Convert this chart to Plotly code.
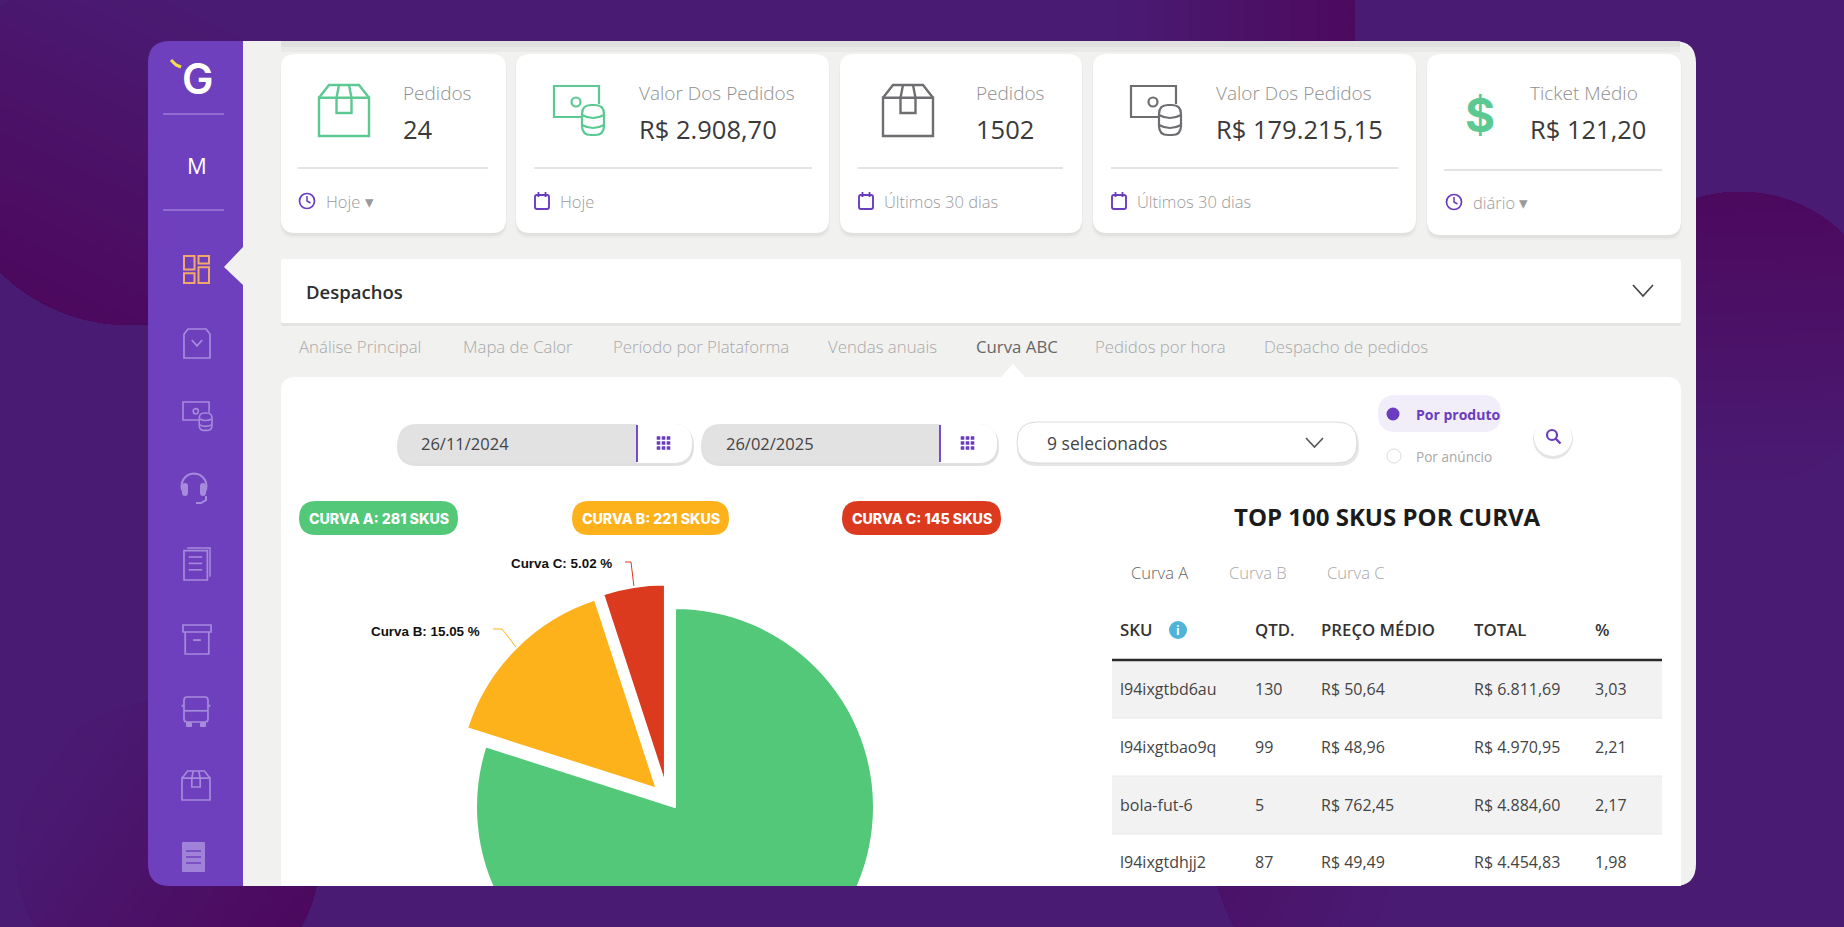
import math
import plotly.graph_objects as go

# cards
card_titles = ['Pedidos', 'Valor Dos Pedidos', 'Pedidos', 'Valor Dos Pedidos', 'Ticket Médio']
card_values = ['24', 'R$ 2.908,70', '1502', 'R$ 179.215,15', 'R$ 121,20']
card_footers = ['Hoje ▾', 'Hoje', 'Últimos 30 dias', 'Últimos 30 dias', 'diário ▾']

tab_names = ['Análise Principal', 'Mapa de Calor', 'Período por Plataforma', 'Vendas anuais',
             'Curva ABC', 'Pedidos por hora', 'Despacho de pedidos']

# pie
curve_labels = ['Curva A', 'Curva B', 'Curva C']
curve_share = [79.93, 15.05, 5.02]
curve_skus = [281, 221, 145]
curve_colors = ['#52c878', '#fdb11b', '#dc3a1e']

# table
table_headers = ['SKU', 'QTD.', 'PREÇO MÉDIO', 'TOTAL', '%']
col_sku = ['l94ixgtbd6au', 'l94ixgtbao9q', 'bola-fut-6', 'l94ixgtdhjj2']
col_qty = ['130', '99', '5', '87']
col_price = ['R$ 50,64', 'R$ 48,96', 'R$ 762,45', 'R$ 49,49']
col_total = ['R$ 6.811,69', 'R$ 4.970,95', 'R$ 4.884,60', 'R$ 4.454,83']
col_pct = ['3,03', '2,21', '2,17', '1,98']

W, H = 1844, 1040
BASE = (74, 27, 115)
BLOB = (76, 9, 94)
BASE_HEX = '#4a1b73'
SIDE = '#6f40bd'
PANEL = '#f1f1ef'
PURPLE = '#6a3cc0'
GREEN_ICON = '#5cc992'
GRAY_ICON = '#6e6e72'
FONT = 'Open Sans'

shapes = []
notes = []


def rrect(x0, y0, x1, y1, r, fill, line=None, lw=1, tl=True, tr=True, br=True, bl=True, layer='below', opacity=1):
    rtl, rtr, rbr, rbl = [r if on else 0 for on in (tl, tr, br, bl)]
    p = f'M{x0 + rtl},{y0} L{x1 - rtr},{y0} Q{x1},{y0} {x1},{y0 + rtr} L{x1},{y1 - rbr} Q{x1},{y1} {x1 - rbr},{y1} '
    p += f'L{x0 + rbl},{y1} Q{x0},{y1} {x0},{y1 - rbl} L{x0},{y0 + rtl} Q{x0},{y0} {x0 + rtl},{y0} Z'
    shapes.append(dict(type='path', path=p, fillcolor=fill, opacity=opacity, layer=layer,
                       line=dict(color=line or fill, width=lw if line else 0)))


def circle(cx, cy, r, fill='rgba(0,0,0,0)', line=None, lw=1, layer='below', opacity=1):
    shapes.append(dict(type='circle', x0=cx - r, x1=cx + r, y0=cy - r, y1=cy + r, fillcolor=fill, layer=layer,
                       opacity=opacity, line=dict(color=line or fill, width=lw if line else 0)))


def poly(points, x, y, w, h, color, lw=2, close=False, fill=None):
    p = 'M' + ' L'.join(f'{x + px * w:.1f},{y + py * h:.1f}' for px, py in points)
    if close:
        p += ' Z'
    shapes.append(dict(type='path', path=p, layer='below', fillcolor=fill or 'rgba(0,0,0,0)',
                       line=dict(color=color, width=lw)))


def text(x, y, s, size=14, color='#333', weight=400, anchor='left', family=FONT):
    if anchor == 'left':
        x -= 2
    notes.append(dict(x=x, y=y, text=s, showarrow=False, xanchor=anchor, yanchor='middle', xref='x', yref='y',
                      font=dict(family=family, size=size, color=color, weight=weight)))


def blob(cx, cy, r, angle, start, strength=1.0, steps=26):
    # circle with a linear fade: dark towards angle, nothing before start (-1..1 across the circle)
    a = math.radians(angle)
    for k in range(steps):
        t = k / steps
        s = start + (1 - start) * t
        half = math.acos(max(-1, min(1, s)))
        mix = strength * (k + 1) / steps
        col = tuple(round(b + (d - b) * mix) for b, d in zip(BASE, BLOB))
        pts = []
        for j in range(41):
            ang = a - half + 2 * half * j / 40
            pts.append(f'{cx + r * math.cos(ang):.1f},{cy + r * math.sin(ang):.1f}')
        shapes.append(dict(type='path', path='M' + ' L'.join(pts) + ' Z', layer='below',
                           fillcolor=f'rgb{col}', line=dict(width=0)))


def shadow_card(x0, y0, x1, y1, r=14):
    rrect(x0 - 1, y0 + 2, x1 + 1, y1 + 5, r, '#000000', opacity=0.025)
    rrect(x0, y0 + 2, x1, y1 + 3, r, '#000000', opacity=0.04)
    rrect(x0, y0, x1, y1, r, '#ffffff')


def box_icon(x, y, w, h, c, lw=2.4):
    poly([(0, .25), (1, .25), (1, 1), (0, 1)], x, y, w, h, c, lw, close=True)
    poly([(0, .25), (.2, 0), (.8, 0), (1, .25)], x, y, w, h, c, lw)
    poly([(.4, 0), (.35, .25), (.35, .55), (.65, .55), (.65, .25), (.6, 0)], x, y, w, h, c, lw)


def cash_icon(x, y, c, k=1.0, lw=2.2, bg='#ffffff'):
    poly([(.56, .62), (0, .62), (0, 0), (.9, 0), (.9, .36)], x, y, 50 * k, 50 * k, c, lw)
    circle(x + 22 * k, y + 16 * k, 4.5 * k, line=c, lw=lw)
    rrect(x + 28 * k, y + 19 * k, x + 50 * k, y + 49 * k, 9 * k, bg, line=c, lw=lw)
    for dy in (29, 39):
        shapes.append(dict(type='path', layer='below', fillcolor='rgba(0,0,0,0)', line=dict(color=c, width=lw),
                           path=f'M{x + 28 * k},{y + dy * k} Q{x + 39 * k},{y + (dy + 6) * k} {x + 50 * k},{y + dy * k}'))


def clock_icon(cx, cy):
    circle(cx, cy, 7.5, line=PURPLE, lw=1.7)
    poly([(0, 0), (0, 1), (.7, 1.4)], cx, cy - 5, 5, 5, PURPLE, 1.5)


def calendar_icon(cx, cy):
    rrect(cx - 7, cy - 6, cx + 7, cy + 8, 2, '#ffffff', line=PURPLE, lw=1.9)
    poly([(0, 0), (0, 1)], cx - 3.5, cy - 9, 1, 5, PURPLE, 1.8)
    poly([(0, 0), (0, 1)], cx + 3.5, cy - 9, 1, 5, PURPLE, 1.8)


def grid_icon(cx, cy):
    for i in (-1, 0, 1):
        for j in (-1, 0, 1):
            rrect(cx + i * 5 - 1.8, cy + j * 5 - 1.8, cx + i * 5 + 1.8, cy + j * 5 + 1.8, 0.3, PURPLE)


# background blobs
blob(130, 140, 185, 115, -0.75)
blob(1130, 20, 225, 0, -0.05, 0.95)
blob(1740, 339, 147, -92, -0.95)
blob(168, 853, 152, 35, -0.95)
blob(1435, 820, 227, 200, 0.05, 0.65)

# panel
rrect(243, 41, 1696, 886, 22, PANEL, tl=False, bl=False)
rrect(281, 41, 1680, 47, 0, '#d6d6d4', opacity=0.6)
rrect(281, 47, 1680, 52, 0, '#e4e4e2', opacity=0.6)
rrect(148, 41, 243, 886, 22, SIDE, tr=False, br=False)

# sidebar
text(197, 78, 'G', 42, '#ffffff', 600, 'center', 'Inter')
poly([(0, 0), (.5, .7), (1, 1)], 171, 60, 10, 7, '#f5e04a', 3)
for yy in (114, 210):
    poly([(0, 0), (1, 0)], 163, yy, 61, 1, '#9c7ad6', 1.4)
text(197, 165, 'M', 22, '#ffffff', 500, 'center')
shapes.append(dict(type='path', path='M243,247 L224,267 L243,285 Z', fillcolor=PANEL, layer='below', line=dict(width=0)))
SI = '#a68adb'
poly([(0, 0), (.42, 0), (.42, .5), (0, .5)], 184, 256, 25, 27, '#f3a86a', 2, close=True)
poly([(.58, 0), (1, 0), (1, .28), (.58, .28)], 184, 256, 25, 27, '#f3a86a', 2, close=True)
poly([(0, .64), (.42, .64), (.42, 1), (0, 1)], 184, 256, 25, 27, '#f3a86a', 2, close=True)
poly([(.58, .42), (1, .42), (1, 1), (.58, 1)], 184, 256, 25, 27, '#f3a86a', 2, close=True)
# bag
poly([(0, .18), (.15, 0), (.85, 0), (1, .18), (1, 1), (0, 1)], 184, 329, 26, 29, SI, 1.7, close=True)
poly([(.3, .38), (.5, .58), (.7, .38)], 184, 329, 26, 29, SI, 1.8)
# cash
cash_icon(183, 402, SI, 0.58, 1.6, SIDE)
# headset
arc = [(math.cos(math.radians(d)), math.sin(math.radians(d))) for d in range(150, 395, 15)]
poly(arc, 194, 486, 12.5, 12.5, SI, 2)
rrect(182, 483, 188, 496, 3, SI)
rrect(200, 483, 206, 496, 3, SI)
poly([(1, 0), (1, .6), (.5, 1), (0, 1)], 196, 496, 10, 7, SI, 2)
# document
poly([(0, .08), (.9, .08), (.9, 1), (0, 1)], 184, 548, 26, 32, SI, 1.7, close=True)
poly([(.12, 0), (1, 0), (1, .9)], 184, 548, 26, 32, SI, 1.5)
for yy in (.28, .48, .68):
    poly([(.18, yy), (.7, yy)], 184, 548, 26, 32, SI, 1.6)
# archive
poly([(0, 0), (1, 0), (1, .24), (0, .24)], 183, 625, 28, 29, SI, 1.7, close=True)
poly([(.08, .24), (.08, 1), (.92, 1), (.92, .24)], 183, 625, 28, 29, SI, 1.7)
poly([(.36, .52), (.64, .52)], 183, 625, 28, 29, SI, 2)
# bus
rrect(184, 697, 208, 722, 3, 'rgba(0,0,0,0)', line=SI, lw=1.7)
poly([(0, .55), (1, .55)], 184, 697, 24, 25, SI, 1.7)
poly([(0, .35), (-.1, .35)], 184, 697, 24, 25, SI, 2)
poly([(1, .35), (1.1, .35)], 184, 697, 24, 25, SI, 2)
rrect(186, 722, 192, 727, 1, SI)
rrect(200, 722, 206, 727, 1, SI)
# box
box_icon(182, 771, 28, 29, SI, 1.7)
# receipt
rrect(182, 842, 205, 872, 1, SI, opacity=0.9)
for yy in (851, 857, 863):
    poly([(0, 0), (1, 0)], 186, yy, 15, 1, SIDE, 1.5)

# kpi cards
card_x = [(281, 506), (516, 829), (840, 1082), (1093, 1416), (1427, 1681)]
title_x = [403, 639, 976, 1216, 1530]
rule_x = [(298, 488), (534, 812), (858, 1063), (1111, 1398), (1444, 1662)]
foot_x = [326, 560, 884, 1137, 1473]
for i in range(5):
    x0, x1 = card_x[i]
    shadow_card(x0, 54, x1, 235 if i == 4 else 233)
    text(title_x[i], 93, card_titles[i], 19, '#8f8f8f', 300)
    text(title_x[i], 129, card_values[i], 25.5, '#3a3a3a', 400)
    ry = 170 if i == 4 else 168
    poly([(0, 0), (1, 0)], rule_x[i][0], ry, rule_x[i][1] - rule_x[i][0], 1, '#c9c9c9', 1)
    fy = 202 if i == 4 else 201
    text(foot_x[i], fy, card_footers[i], 16.5, '#9a9a9a', 300)
    if i in (0, 4):
        clock_icon(foot_x[i] - 19, fy)
    else:
        calendar_icon(foot_x[i] - 18, fy)
box_icon(319, 85, 50, 51, GREEN_ICON)
cash_icon(554, 86, GREEN_ICON)
box_icon(883, 85, 50, 51, GRAY_ICON)
cash_icon(1131, 86, GRAY_ICON)
text(1480, 115, '$', 46, GREEN_ICON, 700, 'center', 'Inter')

# despachos bar
rrect(281, 262, 1681, 326, 2, '#000000', opacity=0.05)
rrect(281, 259, 1681, 323, 2, '#ffffff')
text(306, 291, 'Despachos', 18.5, '#2d2d2d', 600)
poly([(0, 0), (.5, 1), (1, 0)], 1633, 285, 20, 11, '#444444', 1.7)

# tabs
tab_x = [299, 463, 613, 828, 976, 1095, 1264]
for x, name in zip(tab_x, tab_names):
    text(x, 346, name, 16.8, '#666666' if name == 'Curva ABC' else '#a8a8a8', 300 if name != 'Curva ABC' else 400)

# main card
rrect(281, 377, 1681, 886, 14, '#ffffff', br=False, bl=False)
shapes.append(dict(type='path', path='M1001,377 L1013,364 L1025,377 Z', fillcolor='#ffffff', layer='below', line=dict(width=0)))

# filter row
for x0, x1, div, label, tx in [(398, 692, 637, '26/11/2024', 421), (702, 997, 940, '26/02/2025', 726)]:
    rrect(x0 - 1, 426, x1 + 2, 466, 20, '#000000', opacity=0.12)
    rrect(x0, 424, x1, 463, 19, '#e2e2e2')
    rrect(div, 424, x1, 463, 19, '#ffffff', tl=False, bl=False)
    poly([(0, 0), (0, 1)], div, 425, 1, 37, PURPLE, 1.8)
    grid_icon((div + x1) / 2 - 1, 443)
    text(tx, 443, label, 16.5, '#444444')
rrect(1017, 425, 1359, 466, 20, '#000000', opacity=0.1)
rrect(1017, 422, 1357, 463, 20, '#ffffff', line='#d9d9d9', lw=1)
text(1047, 443, '9 selecionados', 17.5, '#444444', 400)
poly([(0, 0), (.5, 1), (1, 0)], 1306, 438, 17, 9, '#555555', 1.6)
rrect(1378, 395, 1501, 432, 18, '#f1eef9')
circle(1393, 414, 6.5, PURPLE)
text(1416, 414, 'Por produto', 14, PURPLE, 700)
circle(1394, 456, 7, '#ffffff', line='#dcdcdc', lw=1)
text(1416, 456, 'Por anúncio', 13.6, '#a8a8a8', 400)
circle(1553, 439, 20, '#000000', opacity=0.1)
circle(1553, 437, 19, '#ffffff')
circle(1552, 435, 5, line=PURPLE, lw=2.2)
poly([(0, 0), (1, 1)], 1555.5, 438.5, 5, 5, PURPLE, 2.4)

# badges
badge_x = [(299, 458), (572, 729), (842, 1001)]
for i in range(3):
    rrect(badge_x[i][0], 501, badge_x[i][1], 535, 17, curve_colors[i])
    text(sum(badge_x[i]) / 2, 518, f'{curve_labels[i].upper()}: {curve_skus[i]} SKUS', 14.2, '#ffffff', 800, 'center', 'Inter')

# pie labels and their leader lines
label_pos = [None, (482, 631), (614, 563)]
leaders = [None,
           'M493,629 L502,629 L516,647',
           'M625,562 L631,562 L634,587']
for i in (1, 2):
    text(label_pos[i][0], label_pos[i][1], f'{curve_labels[i]}: {curve_share[i]:.2f} %', 13.4, '#111111', 700, 'right', 'Liberation Sans')
    shapes.append(dict(type='path', path=leaders[i], layer='below', fillcolor='rgba(0,0,0,0)',
                       line=dict(color=curve_colors[i], width=1)))

# table
text(1387, 516, 'TOP 100 SKUS POR CURVA', 24, '#1b1b1b', 700, 'center')
for x, name, c in zip([1131, 1229, 1327], curve_labels, ['#666666', '#a8a8a8', '#a8a8a8']):
    text(x, 572, name, 16.6, c, 300)
col_x = [1120, 1255, 1321, 1474, 1595]
for x, name in zip(col_x, table_headers):
    text(x, 629, name, 16.8, '#333333', 600)
circle(1178, 630, 9, '#4fb4d8')
text(1178, 630, 'i', 12, '#ffffff', 700, 'center')
row_y = [(660, 718), (718, 776), (776, 834), (834, 886)]
row_text = [689, 747, 805, 862]
for r in (0, 2):
    rrect(1112, row_y[r][0], 1662, row_y[r][1], 0, '#f2f2f2')
for y in (718, 776, 834):
    poly([(0, 0), (1, 0)], 1112, y, 550, 1, '#e8e8e8', 1)
poly([(0, 0), (1, 0)], 1112, 660, 550, 1, '#2a2a2a', 2.6)
for r in range(4):
    for x, col in zip(col_x, [col_sku, col_qty, col_price, col_total, col_pct]):
        text(x, row_text[r], col[r], 16, '#444444', 400)

pull = 0.13
cx, cy, radius = 675, 807, 199
half = radius * (1 + pull)
clear = 'rgba(0,0,0,0)'


def pie_domain(dx, dy):
    return dict(x=[(cx + dx - half) / W, (cx + dx + half) / W],
                y=[1 - (cy + dy + half) / H, 1 - (cy + dy - half) / H])


fig = go.Figure()
# Curva C sits in its own pie: the reference moves it sideways as well as along its angle
fig.add_trace(go.Pie(
    labels=curve_labels, values=curve_share, sort=False, direction='clockwise', rotation=0,
    pull=[0, pull, pull],
    marker=dict(colors=[curve_colors[0], curve_colors[1], clear], line=dict(color='#ffffff', width=[2, 2, 0])),
    textinfo='none', hoverinfo='skip', showlegend=False,
    domain=pie_domain(0, 0),
))
fig.add_trace(go.Pie(
    labels=curve_labels, values=curve_share, sort=False, direction='clockwise', rotation=0,
    pull=[0, pull, pull],
    marker=dict(colors=[clear, clear, curve_colors[2]], line=dict(color='#ffffff', width=[0, 0, 2])),
    textinfo='none', hoverinfo='skip', showlegend=False,
    domain=pie_domain(-6, 2),
))

# hides the part of the pie below the panel
shapes.append(dict(type='rect', x0=450, x1=900, y0=886, y1=H, fillcolor=BASE_HEX, layer='above', line=dict(width=0)))

fig.update_xaxes(range=[0, W], visible=False, fixedrange=True)
fig.update_yaxes(range=[H, 0], visible=False, fixedrange=True)
fig.update_layout(
    width=W, height=H,
    margin=dict(l=0, r=0, t=0, b=0),
    paper_bgcolor=BASE_HEX, plot_bgcolor=BASE_HEX,
    shapes=shapes, annotations=notes,
)
# one invisible trace so the cartesian axes exist for shapes and annotations
fig.add_trace(go.Scatter(x=[0], y=[0], mode='markers', marker=dict(opacity=0), hoverinfo='skip', showlegend=False))
fig.write_html('out.html', config=dict(displayModeBar=False),
               post_script="document.body.style.margin='0';document.documentElement.style.overflow='hidden';")
